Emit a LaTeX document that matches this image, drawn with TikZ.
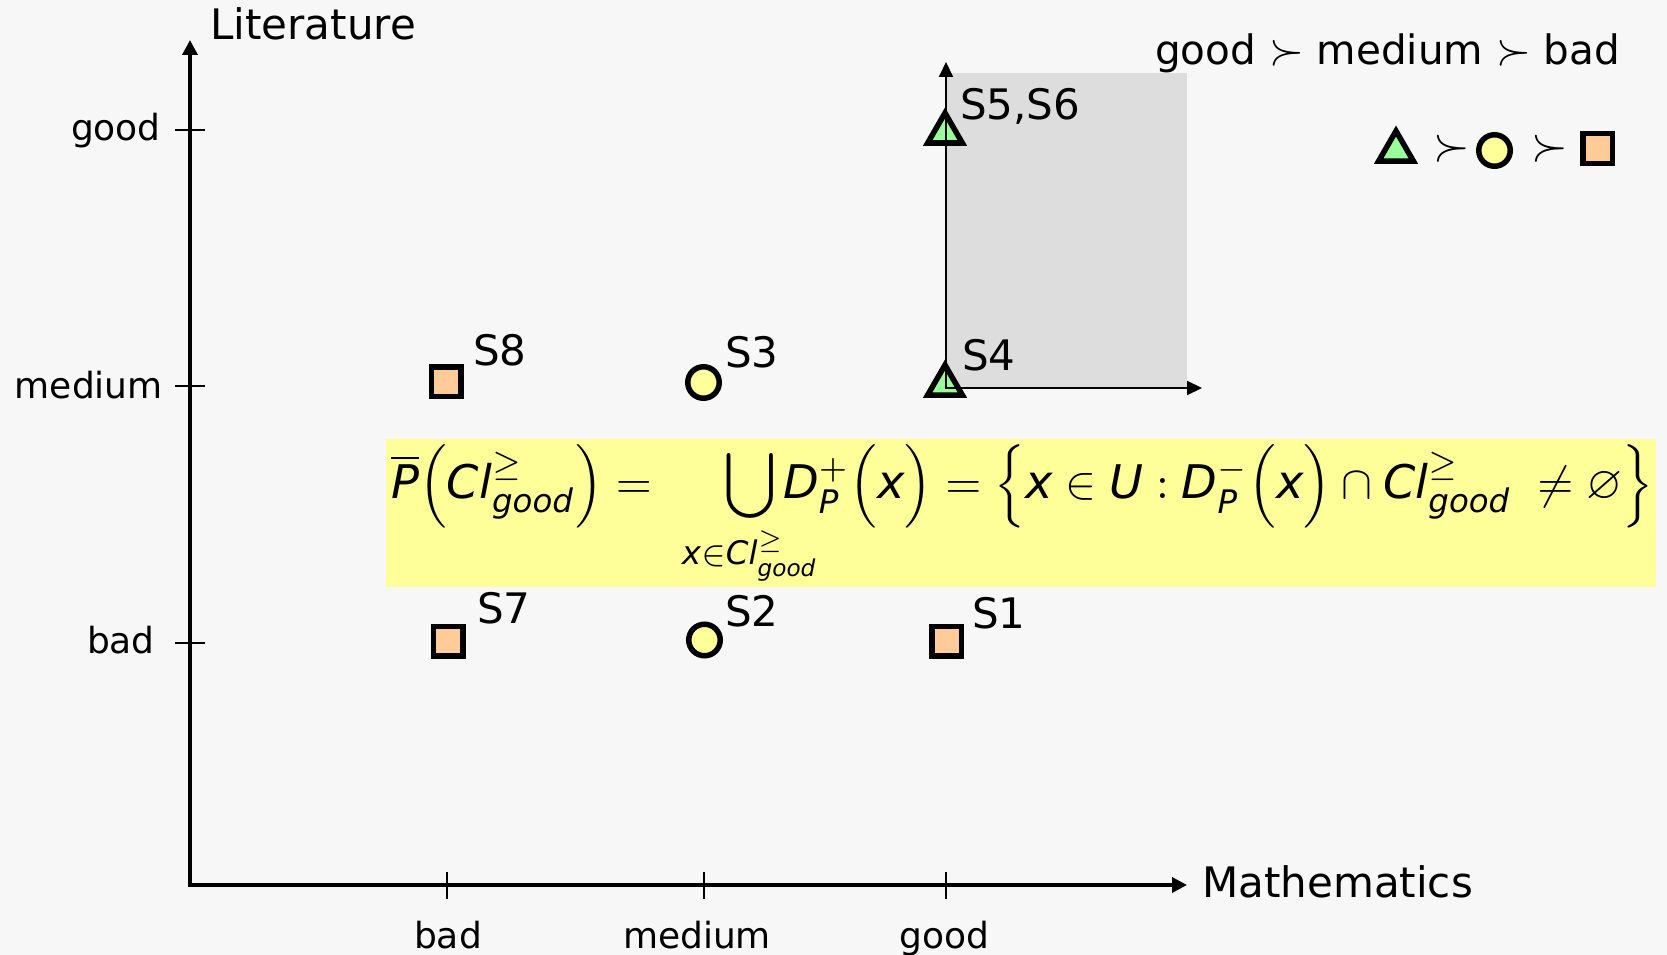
\documentclass[tikz,border=0pt]{standalone}
\usepackage{amsmath}
\usepackage{amssymb}
\usepackage{mathtools}
\usepackage{graphicx}
\usepackage{fontspec}
\setmainfont{DejaVu Sans}
\usetikzlibrary{arrows.meta,shapes.geometric}
\definecolor{bgcol}{HTML}{F7F7F7}
\definecolor{graycol}{HTML}{DDDDDD}
\definecolor{bandcol}{HTML}{FFFF99}
\definecolor{trifill}{HTML}{99FF99}
\definecolor{circfill}{HTML}{FFFF99}
\definecolor{sqfill}{HTML}{FFCC99}
\newcommand{\mi}[1]{\mathit{#1}}
\newcommand{\bigsucc}[1]{\scalebox{#1}{$\succ$}}
\tikzset{
  big/.style={font=\fontsize{42}{50}\selectfont, inner sep=0pt},
  ticklab/.style={font=\fontsize{36}{44}\selectfont, inner sep=0pt},
  slab/.style={font=\fontsize{42}{50}\selectfont, inner sep=0pt, anchor=base west},
  mainaxis/.style={line width=3.5pt, {Triangle[length=15pt,width=15pt]}-{Triangle[length=15pt,width=15pt]}, line join=miter},
  inneraxis/.style={line width=2pt, {Triangle[length=15pt,width=14pt]}-{Triangle[length=15pt,width=14pt]}},
  tickline/.style={line width=2pt},
  sqmark/.style={draw, line width=5.5pt, fill=sqfill, rectangle, minimum size=29.5pt, inner sep=0pt},
  circmark/.style={draw, line width=5.5pt, fill=circfill, circle, minimum size=31.5pt, inner sep=0pt},
  trimark/.style={draw, line width=5.5pt, fill=trifill, regular polygon, regular polygon sides=3, minimum size=40pt, inner sep=0pt, line join=miter},
}
\begin{document}
\begin{tikzpicture}[x=1pt,y=-1pt]
\fill[bgcol] (0,0) rectangle (1667,955);
\useasboundingbox (0,0) rectangle (1667,955);

% gray dominance cone
\fill[graycol] (946,72.7) rectangle (1187,388);

% yellow band
\fill[bandcol] (386,439) rectangle (1656,587);

% formula
\node[anchor=base west, inner sep=0pt] (formula) at (391,498) {\resizebox{1262pt}{!}{$\displaystyle
\overline{\mi{P}}\Bigl(\mi{Cl}^{\geq}_{\mi{good}}\Bigr) = \quad\;
\bigcup\limits_{\mathclap{\mi{x}\in \mi{Cl}^{\geq}_{\mi{good}}}} \mi{D}^{+}_{\mi{P}}\Bigl(\mi{x}\Bigr) =
\Bigl\{\mi{x} \in \mi{U} : \mi{D}^{-}_{\mi{P}}\Bigl(\mi{x}\Bigr) \cap \mi{Cl}^{\geq}_{\mi{good}}\; \neq \varnothing\Bigr\}$}};

% main axes
\coordinate (ytip) at (190,40);
\coordinate (origin) at (190,885);
\coordinate (xtip) at (1187,885);
\draw[mainaxis] (ytip) -- (origin) -- (xtip);

% y ticks
\foreach \yy/\nm in {130/ygood,386/ymed,643/ybad}{
  \coordinate (\nm L) at (175,\yy);
  \coordinate (\nm R) at (205,\yy);
  \draw[tickline] (\nm L) -- (\nm R);
}
% x ticks
\foreach \xx/\nm in {447/xbad,704/xmed,946/xgood}{
  \coordinate (\nm T) at (\xx,872);
  \coordinate (\nm B) at (\xx,899);
  \draw[tickline] (\nm T) -- (\nm B);
}

% axis labels
\node[big, anchor=base west] (lit) at (210,40) {Literature};
\node[big, anchor=base west] (math) at (1202,897) {Mathematics};
\node[ticklab, anchor=base east] (lgood) at (161,140) {good};
\node[ticklab, anchor=base east] (lmed) at (163,398) {medium};
\node[ticklab, anchor=base east] (lbad) at (155,653) {bad};
\node[ticklab, anchor=base] (bbad) at (448,948) {bad};
\node[ticklab, anchor=base] (bmed) at (697,948) {medium};
\node[ticklab, anchor=base] (bgood) at (944.5,948) {good};

% markers
\node[trimark] (s56) at (945,133) {};
\node[trimark] (s4) at (945,385) {};
\node[sqmark] (s8) at (446,381.5) {};
\node[circmark] (s3) at (703.5,382.5) {};
\node[sqmark] (s7) at (448,641) {};
\node[circmark] (s2) at (704.5,640) {};
\node[sqmark] (s1) at (946.5,641) {};

% inner axes (cone)
\coordinate (cup) at (946,62);
\coordinate (corner) at (946,388);
\coordinate (cright) at (1202,388);
\draw[inneraxis] (cup) -- (corner) -- (cright);

% point labels
\node[slab] (t56) at (960,120) {S5,S6};
\node[slab] (t4) at (962,370) {S4};
\node[slab] (t8) at (473,365) {S8};
\node[slab] (t3) at (725,367) {S3};
\node[slab] (t7) at (477,623) {S7};
\node[slab] (t2) at (725,626) {S2};
\node[slab] (t1) at (972,628) {S1};

% legend
\node[font=\fontsize{40.5}{48}\selectfont, inner sep=0pt, anchor=base west] (order) at (1155,65) {good \bigsucc{1.8} medium \bigsucc{1.8} bad};
\node[trimark] (lt) at (1396,151) {};
\node[inner sep=0pt] (succ1) at (1452,149) {\bigsucc{4.7}};
\node[circmark] (lc) at (1494.5,150.5) {};
\node[inner sep=0pt] (succ2) at (1550,149) {\bigsucc{4.7}};
\node[sqmark] (ls) at (1597.5,148.5) {};
\end{tikzpicture}
\end{document}
